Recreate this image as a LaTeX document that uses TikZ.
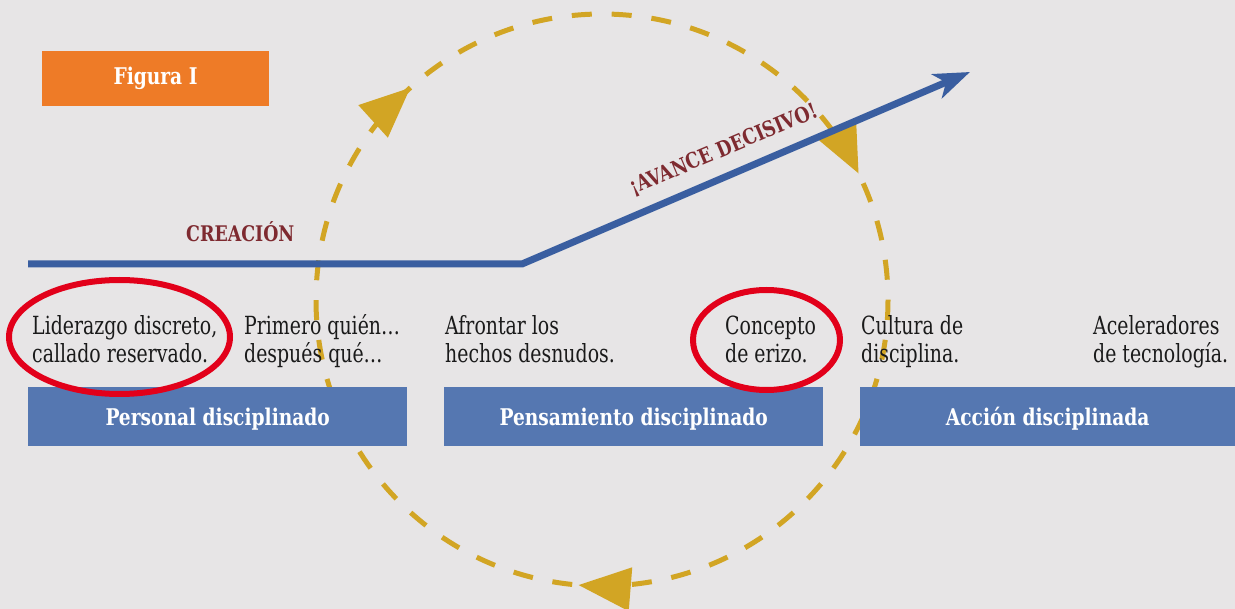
\documentclass[tikz,border=0pt]{standalone}
\usepackage{fontspec}
\setmainfont{DejaVu Serif Condensed}[FakeStretch=0.84, BoldFeatures={FakeStretch=0.9}]
\usetikzlibrary{arrows.meta,decorations.markings}

\definecolor{bg}{HTML}{E7E5E6}
\definecolor{orangebox}{HTML}{EE7B27}
\definecolor{lineblue}{HTML}{3A5EA0}
\definecolor{boxblue}{HTML}{5577B1}
\definecolor{gold}{HTML}{D2A524}
\definecolor{ringred}{HTML}{E2001A}
\definecolor{wine}{HTML}{7E2A30}
\definecolor{ink}{HTML}{1A1A1A}

\begin{document}
\begin{tikzpicture}[x=1pt,y=-1pt,
  bodytext/.style={anchor=base west, inner sep=0pt, align=left, text=ink,
    font=\fontsize{25}{28}\selectfont},
  stagebox/.style={fill=boxblue, anchor=north west, minimum height=59pt,
    inner sep=0pt, text=white, text height=17pt, text depth=0pt,
    font=\bfseries\fontsize{23}{26}\selectfont},
  headline/.style={text=wine, inner sep=0pt, font=\bfseries\fontsize{21.5}{24}\selectfont},
  cycleflow/.style={draw=gold, line width=5pt, dash pattern=on 20pt off 19.93pt},
  mainline/.style={draw=lineblue, line width=7pt, miter limit=20,
    -{Stealth[length=36pt,width=26pt,inset=10pt]}},
  redring/.style={draw=ringred, line width=6pt},
]
% canvas
\fill[bg] (0,0) rectangle (1235,609);
\useasboundingbox (0,0) rectangle (1235,609);

% title tag
\node[fill=orangebox, minimum width=227pt, minimum height=55pt, inner sep=0pt,
  text=white, font=\bfseries\fontsize{23}{26}\selectfont] (title) at (155.5,78.5) {Figura I};

% the flywheel cycle, running clockwise, with its three arrowheads
\coordinate (hub) at (602,300);
\draw[cycleflow,
  postaction={decorate, decoration={markings,
    mark=at position 0.263 with {\fill[gold] (0pt,0pt) -- (-52pt,22pt) -- (-52pt,-22pt) -- cycle;},
    mark=at position 0.633 with {\fill[gold] (0pt,0pt) -- (-50pt,22pt) -- (-50pt,-22pt) -- cycle;},
    mark=at position 0.927 with {\fill[gold] (0pt,0pt) -- (-50pt,22pt) -- (-50pt,-22pt) -- cycle;}}}]
  (hub) circle[radius=286];

% build-up line and breakthrough arrow
\coordinate (lstart) at (28,264);
\coordinate (lbend) at (522,264);
\coordinate (ltip) at (970,72);
\draw[mainline] (lstart) -- (lbend) -- (ltip);

\node[headline, anchor=base west] (creacion) at (186,242) {CREACIÓN};
\node[headline, rotate=23] (avance) at (724,150) {¡AVANCE DECISIVO!};

% stage boxes
\node[stagebox, minimum width=379pt] (personal) at (28,387) {Personal disciplinado};
\node[stagebox, minimum width=379pt] (pensamiento) at (444,387) {Pensamiento disciplinado};
\node[stagebox, minimum width=375pt] (accion) at (860,387) {Acción disciplinada};

% highlighted items
\coordinate (ring1) at (119.5,337);
\coordinate (ring2) at (766.5,340);
\draw[redring] (ring1) ellipse[x radius=110.5, y radius=57];
\draw[redring] (ring2) ellipse[x radius=73.5, y radius=50];

% stage items (anchored on the baseline of their last line)
\node[bodytext] (lider) at (32,363) {Liderazgo discreto,\\callado reservado.};
\node[bodytext] (quien) at (244,363) {Primero quién…\\después qué…};
\node[bodytext] (hechos) at (445,363) {Afrontar los\\hechos desnudos.};
\node[bodytext] (erizo) at (725,363) {Concepto\\de erizo.};
\node[bodytext] (cultura) at (861,363) {Cultura de\\disciplina.};
\node[bodytext] (tecno) at (1093,363) {Aceleradores\\de tecnología.};
\end{tikzpicture}
\end{document}
